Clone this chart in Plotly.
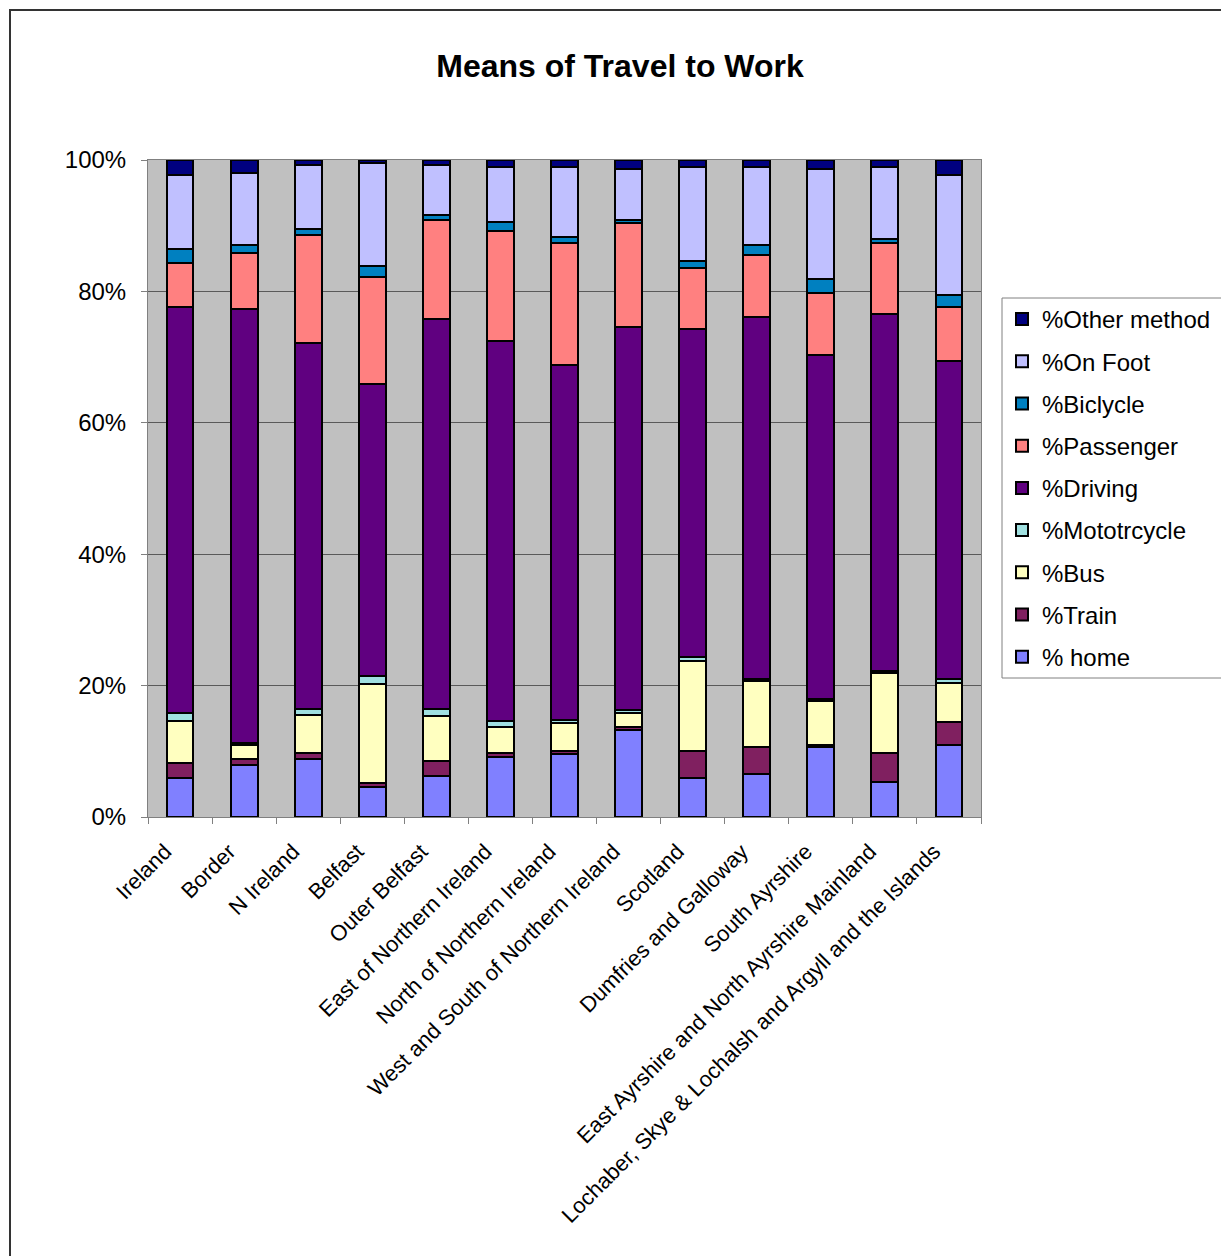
import plotly.graph_objects as go

# Regions along the x axis
regions = [
    "Ireland", "Border", "N Ireland", "Belfast", "Outer Belfast",
    "East of Northern Ireland", "North of Northern Ireland",
    "West and South of Northern Ireland", "Scotland", "Dumfries and Galloway",
    "South Ayrshire", "East Ayrshire and North Ayrshire Mainland",
    "Lochaber, Skye & Lochalsh and Argyll and the Islands",
]

# Share of workers (%) by means of travel, one list per mode
home = [6.0, 7.9, 8.8, 4.5, 6.3, 9.1, 9.6, 13.3, 6.0, 6.6, 10.6, 5.4, 10.9]
train = [2.2, 0.9, 0.9, 0.6, 2.3, 0.6, 0.5, 0.4, 4.0, 4.1, 0.4, 4.3, 3.5]
bus = [6.4, 2.1, 5.8, 15.2, 6.7, 4.0, 4.2, 2.1, 13.7, 10.0, 6.7, 12.2, 6.0]
motorcycle = [1.3, 0.3, 0.9, 1.1, 1.1, 0.9, 0.5, 0.5, 0.7, 0.3, 0.3, 0.3, 0.6]
driving = [61.8, 66.1, 55.8, 44.5, 59.4, 57.9, 54.0, 58.3, 49.9, 55.1, 52.3, 54.3, 48.4]
passenger = [6.6, 8.5, 16.4, 16.3, 15.0, 16.7, 18.6, 15.8, 9.2, 9.4, 9.5, 10.8, 8.3]
bicycle = [2.2, 1.2, 0.9, 1.6, 0.9, 1.3, 0.9, 0.4, 1.2, 1.6, 2.1, 0.7, 1.8]
on_foot = [11.2, 11.0, 9.8, 15.8, 7.6, 8.4, 10.6, 7.8, 14.3, 11.9, 16.7, 11.0, 18.2]
other = [2.3, 1.9, 0.7, 0.4, 0.7, 1.1, 1.1, 1.4, 1.0, 1.0, 1.4, 1.0, 2.3]

y_ticks = [0, 20, 40, 60, 80, 100]
y_tick_text = ["0%", "20%", "40%", "60%", "80%", "100%"]

# Stacking order bottom to top
series = [
    ("% home", home, "#8080FF"),
    ("%Train", train, "#802060"),
    ("%Bus", bus, "#FFFFC0"),
    ("%Mototrcycle", motorcycle, "#A0E0E0"),
    ("%Driving", driving, "#600080"),
    ("%Passenger", passenger, "#FF8080"),
    ("%Biclycle", bicycle, "#0080C0"),
    ("%On Foot", on_foot, "#C0C0FF"),
    ("%Other method", other, "#000080"),
]

FONT = "Arial, Liberation Sans, sans-serif"

W, H = 1221, 1256
L, R, T, B = 148, 981, 160, 817  # plot area in pixels
pw, ph = R - L, B - T


def px_x(x):
    return (x - L) / pw


def px_y(y):
    return (B - y) / ph


fig = go.Figure()
n = len(series)
for i, (name, vals, color) in enumerate(series):
    fig.add_trace(go.Bar(
        x=regions, y=vals, name=name, legendgroup=name,
        legendrank=n - i,  # top of the stack listed first
        marker=dict(color=color, line=dict(color="#000000", width=2)),
    ))

fig.update_layout(
    width=W, height=H,
    margin=dict(l=L, r=W - R, t=T, b=H - B, autoexpand=False),
    barmode="stack", barnorm="percent", bargap=0.58,
    paper_bgcolor="#FFFFFF", plot_bgcolor="#C0C0C0",
    font=dict(family=FONT, color="#000000"),
    title=dict(
        text="<b>Means of Travel to Work</b>",
        font=dict(family=FONT, size=32, color="#000000"),
        x=620 / W, xanchor="center", xref="container",
        y=1 - 66 / H, yanchor="middle", yref="container",
    ),
    showlegend=True,
    legend=dict(
        x=px_x(1002), y=px_y(297), xanchor="left", yanchor="top",
        traceorder="grouped", tracegroupgap=8,
        font=dict(family=FONT, size=24, color="#000000"),
        bgcolor="rgba(0,0,0,0)", borderwidth=0,
    ),
    xaxis=dict(
        type="category", tickson="boundaries", ticks="outside", ticklen=6,
        tickcolor="#808080", tickangle=-45, automargin=False,
        ticklabelstandoff=12, ticklabelshift=-15,
        tickfont=dict(family=FONT, size=22, color="#000000"),
        showline=True, linecolor="#808080", linewidth=1, mirror=True,
        showgrid=False,
    ),
    yaxis=dict(
        range=[0, 100], tickvals=y_ticks, ticktext=y_tick_text,
        ticks="outside", ticklen=6, tickcolor="#808080", automargin=False,
        ticklabelstandoff=10,
        tickfont=dict(family=FONT, size=24, color="#000000"),
        showline=True, linecolor="#808080", linewidth=1, mirror=True,
        showgrid=True, gridcolor="#5A5A5A", gridwidth=1, zeroline=False,
    ),
    shapes=[
        # chart area frame
        dict(
            type="rect", xref="paper", yref="paper",
            x0=px_x(10), x1=px_x(1240), y0=px_y(1280), y1=px_y(10),
            line=dict(color="#333333", width=2), fillcolor="rgba(0,0,0,0)",
            layer="below",
        ),
        # legend frame running past the right edge
        dict(
            type="rect", xref="paper", yref="paper",
            x0=px_x(1002), x1=px_x(1240), y0=px_y(678), y1=px_y(298),
            line=dict(color="#808080", width=1), fillcolor="#FFFFFF",
            layer="below",
        ),
    ],
)

fig.write_html("out.html")
